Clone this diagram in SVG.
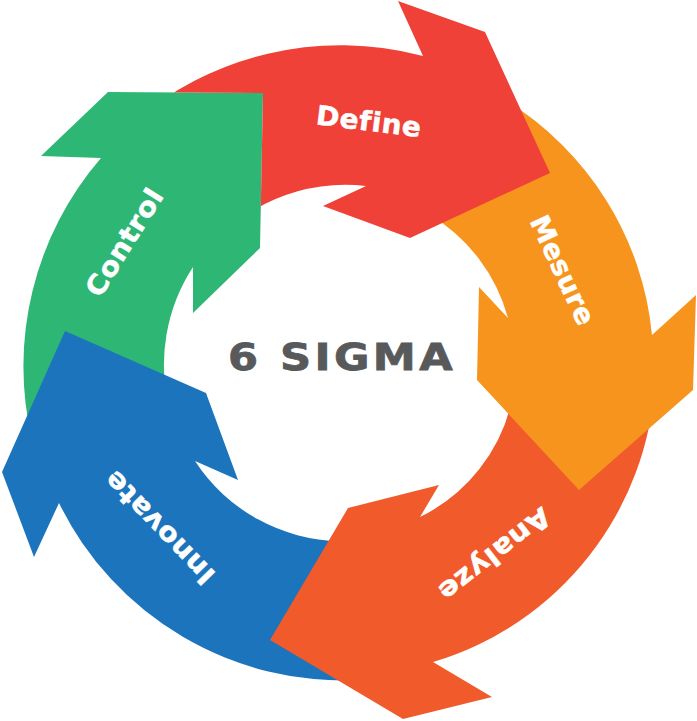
<svg xmlns="http://www.w3.org/2000/svg" width="697" height="721" viewBox="0 0 697 721">
<style>
.lbl{font-family:"DejaVu Sans","Liberation Sans",sans-serif;font-weight:bold;font-size:27px;letter-spacing:0.5px;fill:#ffffff;stroke:#ffffff;stroke-width:0.5;text-anchor:middle}
.title{font-family:"DejaVu Sans","Liberation Sans",sans-serif;font-weight:bold;font-size:38px;letter-spacing:3px;fill:#58595B;stroke:#58595B;stroke-width:0.8;text-anchor:middle}
</style>
<defs>
<clipPath id="clipRed" clipPathUnits="userSpaceOnUse">
<path clip-rule="evenodd" d="M0,0H697V721H0Z M108,92 L263,93 L260,248 L150,300 L41,156 Z"/>
</clipPath>
</defs>
<rect width="697" height="721" fill="#ffffff"/>
<g id="connectors"></g>
<g id="control">
<path fill="#2DB674" d="M32,440 A319,319 0 0 1 101,158 L41,156 L108,92 L263,93 L260,248 L193,313 L193,267 A179,179 0 0 0 169,407 Z"/>
<text class="lbl" transform="translate(124,242) rotate(-58)" x="0" y="9.8" textLength="122" lengthAdjust="spacingAndGlyphs">Control</text>
</g>
<g id="innovate">
<path fill="#1C75BC" d="M360,680 A316,316 0 0 1 59,503 L34,557 L2,472 L65,331 L206,393 L238,480 L195,461 A176,176 0 0 0 340,541 Z"/>
<text class="lbl" transform="translate(159,528) rotate(226)" x="0" y="9.8" textLength="146" lengthAdjust="spacingAndGlyphs">Innovate</text>
</g>
<g id="analyze">
<path fill="#F15A2B" d="M655,380 A311,311 0 0 1 433,662 L492,697 L403,719 L270,640 L348,508 L439,485 L420,517 A171,171 0 0 0 512,400 Z"/>
<text class="lbl" transform="translate(495,555) rotate(142)" x="0" y="9.8" textLength="134" lengthAdjust="spacingAndGlyphs">Analyze</text>
</g>
<g id="mesure">
<path fill="#F7941E" d="M505,100 A310,310 0 0 1 652,335 L696,295 L693,390 L579,490 L477,380 L479,287 L508,318 A172,172 0 0 0 430,215 Z"/>
<text class="lbl" transform="translate(563,270) rotate(65)" x="0" y="9.8" textLength="118" lengthAdjust="spacingAndGlyphs">Mesure</text>
</g>
<g id="define">
<path fill="#EF4138" clip-path="url(#clipRed)" d="M130,125 A319,319 0 0 1 423,56 L398,1 L485,32 L550,173 L410,238 L323,206 L366,186 A179,179 0 0 0 235,223 Z"/>
<text class="lbl" transform="translate(369,121) rotate(7)" x="0" y="9.8" textLength="106" lengthAdjust="spacingAndGlyphs">Define</text>
</g>
<g id="center">
<text class="title" x="342" y="370" textLength="228" lengthAdjust="spacingAndGlyphs">6 SIGMA</text>
</g>
</svg>
